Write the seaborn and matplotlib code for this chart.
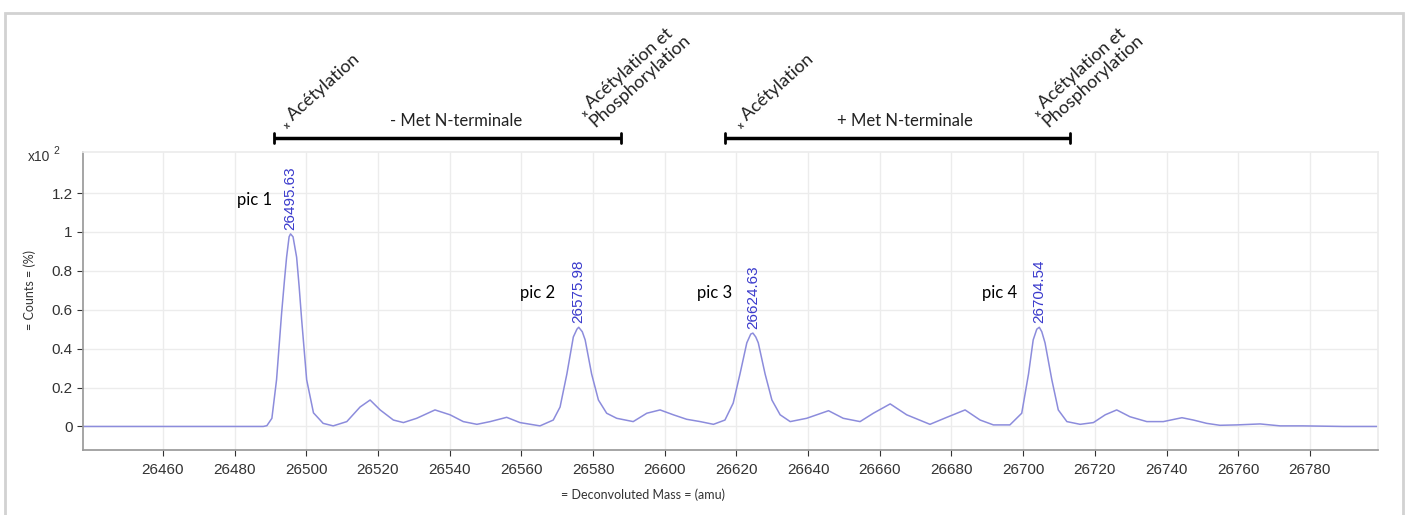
import matplotlib
matplotlib.use('Agg')
import matplotlib.pyplot as plt
import pandas as pd
import seaborn as sns
from matplotlib.patches import Rectangle

# spectre déconvolué, points (masse en amu, intensité x10^2 %)
mass = [26437.7, 26488.0, 26489.0, 26490.4, 26491.7, 26493.1, 26493.9, 26494.5,
        26495.2, 26495.6, 26496.3, 26497.3, 26498.0, 26498.7, 26500.1, 26502.0,
        26504.7, 26507.5, 26511.3, 26515.0, 26517.8, 26520.6, 26524.3, 26527.1,
        26530.8, 26535.9, 26540.1, 26543.8, 26547.6, 26551.3, 26555.9, 26559.6,
        26565.2, 26568.9, 26570.8, 26572.7, 26574.5, 26575.5, 26576.0, 26577.0,
        26577.8, 26579.6, 26581.5, 26583.8, 26586.6, 26591.2, 26595.0, 26598.7,
        26602.4, 26606.1, 26609.9, 26613.6, 26616.8, 26619.1, 26621.0, 26622.9,
        26624.0, 26624.6, 26625.4, 26626.1, 26628.0, 26629.9, 26632.2, 26635.0,
        26639.6, 26645.7, 26649.8, 26654.5, 26658.2, 26662.9, 26667.5, 26674.0,
        26678.7, 26683.8, 26688.0, 26691.7, 26696.3, 26699.6, 26701.5, 26702.8,
        26703.8, 26704.5, 26705.2, 26706.1, 26708.0, 26709.8, 26712.2, 26715.9,
        26719.6, 26722.9, 26726.1, 26729.8, 26734.5, 26739.1, 26744.3, 26747.5,
        26751.2, 26754.9, 26759.6, 26766.1, 26771.7, 26778.1, 26789.3, 26798.7]
counts = [0.0, 0.0, 0.004, 0.042, 0.24, 0.58, 0.75, 0.87,
          0.975, 0.99, 0.975, 0.87, 0.72, 0.55, 0.24, 0.07,
          0.016, 0.003, 0.025, 0.10, 0.136, 0.085, 0.033, 0.02,
          0.042, 0.085, 0.06, 0.025, 0.011, 0.025, 0.047, 0.02,
          0.003, 0.033, 0.10, 0.27, 0.46, 0.50, 0.51, 0.487,
          0.445, 0.27, 0.136, 0.068, 0.042, 0.025, 0.068, 0.085,
          0.06, 0.037, 0.025, 0.011, 0.033, 0.12, 0.27, 0.43,
          0.475, 0.48, 0.46, 0.43, 0.27, 0.136, 0.06, 0.025,
          0.042, 0.081, 0.042, 0.025, 0.068, 0.116, 0.06, 0.011,
          0.047, 0.085, 0.033, 0.008, 0.008, 0.068, 0.27, 0.445,
          0.50, 0.51, 0.487, 0.43, 0.24, 0.085, 0.025, 0.011,
          0.02, 0.06, 0.085, 0.05, 0.025, 0.025, 0.045, 0.033,
          0.016, 0.006, 0.008, 0.013, 0.003, 0.003, 0.0, 0.0]

# pics annotés
peak_mass = [26495.63, 26575.98, 26624.63, 26704.54]
peak_height = [0.99, 0.51, 0.48, 0.51]
pic_names = ["pic 1", "pic 2", "pic 3", "pic 4"]
pic_x = [26490.5, 26569.4, 26618.8, 26698.3]
pic_y = [1.164, 0.686, 0.686, 0.686]

# modifications (textes inclinés)
mod_labels = ["ₓ Acétylation", "ₓ Acétylation et\nPhosphorylation",
              "ₓ Acétylation", "ₓ Acétylation et\nPhosphorylation"]
mod_x = [26494.9, 26581.1, 26621.6, 26707.5]

# accolades Met N-terminale
bracket_start = [26491.1, 26616.7]
bracket_end = [26587.8, 26713.1]
bracket_labels = ["- Met N-terminale", "+ Met N-terminale"]
bracket_text_x = [26541.8, 26667.0]

x_ticks = [26460, 26480, 26500, 26520, 26540, 26560, 26580, 26600, 26620,
           26640, 26660, 26680, 26700, 26720, 26740, 26760, 26780]
y_ticks = [0, 0.2, 0.4, 0.6, 0.8, 1.0, 1.2]
y_ticklabels = ["0", "0.2", "0.4", "0.6", "0.8", "1", "1.2"]

sns.set_theme(style="white")
plt.rcParams['font.family'] = ['Liberation Sans', 'DejaVu Sans']
ann_font = ['Lato', 'DejaVu Sans']

W, H = 1407, 515
fig = plt.figure(figsize=(W / 100, H / 100), dpi=100)
fig.patch.set_facecolor('white')
ax = fig.add_axes([83 / W, 1 - 450 / H, (1378 - 83) / W, (450 - 152) / H])

df = pd.DataFrame({'mass': mass, 'counts': counts})
sns.lineplot(data=df, x='mass', y='counts', color='#8c8cdc', linewidth=1.1, ax=ax)

ax.set_xlim(26437.7, 26799)
ax.set_ylim(-0.121, 1.411)
ax.set_xticks(x_ticks)
ax.set_yticks(y_ticks)
ax.set_yticklabels(y_ticklabels)
ax.set_xlabel('')
ax.set_ylabel('')
ax.grid(True, color='#ececec', linewidth=1)
ax.tick_params(axis='both', labelsize=11, colors='#333333', length=4, width=0.8,
               left=True, bottom=True, direction='out')
ax.tick_params(axis='x', pad=5)
for side in ['left', 'bottom']:
    ax.spines[side].set_color('#9a9a9a')
for side in ['top', 'right']:
    ax.spines[side].set_color('#ececec')

# étiquettes de masse des pics
for m, h in zip(peak_mass, peak_height):
    ax.annotate(f"{m:.2f}", xy=(m, h), xytext=(0, 3), textcoords='offset points',
                rotation=90, ha='center', va='bottom', fontsize=11, color='#3a3acc')

for name, x, y in zip(pic_names, pic_x, pic_y):
    ax.text(x, y, name, ha='right', va='center', fontsize=12, family=ann_font,
            color='black')

for label, x in zip(mod_labels, mod_x):
    ax.text(x, 1.524, label, rotation=42, rotation_mode='anchor', ha='left',
            va='bottom', fontsize=13, family=ann_font, color='#222222',
            linespacing=1.0, clip_on=False)

for x0, x1, label, xt in zip(bracket_start, bracket_end, bracket_labels, bracket_text_x):
    ax.plot([x0, x1], [1.483, 1.483], color='black', lw=2.5, clip_on=False,
            solid_capstyle='butt')
    for xe in (x0, x1):
        ax.plot([xe, xe], [1.455, 1.511], color='black', lw=2, clip_on=False)
    ax.text(xt, 1.53, label, ha='center', va='bottom', fontsize=12,
            family=ann_font, color='#222222', clip_on=False)

# libellés des axes et facteur d'échelle
fig.text(28 / W, 1 - 161 / H, "x10", fontsize=10, color='#333333')
fig.text(53 / W, 1 - 154 / H, "2", fontsize=7.5, color='#333333')
fig.text(30 / W, 1 - 290 / H, "= Counts = (%)", rotation=90, ha='center',
         va='center', fontsize=9, family=ann_font, color='#333333')
fig.text(643 / W, 1 - 495 / H, "= Deconvoluted Mass = (amu)", ha='center',
         va='center', fontsize=9, family=ann_font, color='#333333')

fig.add_artist(Rectangle((5 / W, -0.1), (1403 - 5) / W, 1 - 13 / H + 0.1,
                         transform=fig.transFigure, fill=False,
                         edgecolor='#d2d2d2', lw=2))

fig.savefig('out.png', dpi=100)
